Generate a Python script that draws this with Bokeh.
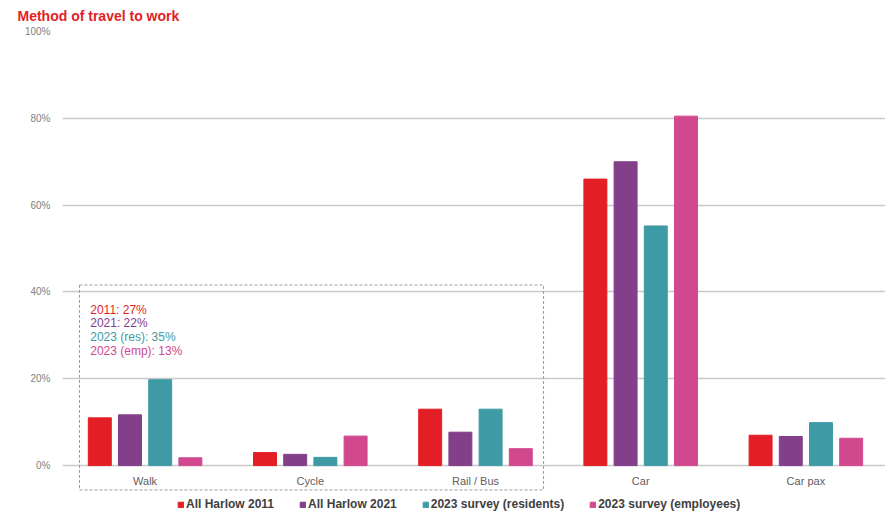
import numpy as np
from bokeh.plotting import figure
from bokeh.models import Range1d, FixedTicker, Legend, LegendItem, ColumnDataSource
from bokeh.core.properties import value
from bokeh.embed import file_html
from bokeh.resources import INLINE

title = "Method of travel to work"
categories = ["Walk", "Cycle", "Rail / Bus", "Car", "Car pax"]
series_names = ["All Harlow 2011", "All Harlow 2021", "2023 survey (residents)", "2023 survey (employees)"]
colors = ["#e31e25", "#833f89", "#3e9aa5", "#d1488f"]
harlow_2011 = [11, 3, 13, 66, 7]
harlow_2021 = [11.7, 2.6, 7.7, 70, 6.7]
survey_res = [19.8, 1.9, 13, 55.2, 9.9]
survey_emp = [1.8, 6.8, 3.9, 80.5, 6.3]
series = [harlow_2011, harlow_2021, survey_res, survey_emp]
y_ticks = [0, 20, 40, 60, 80, 100]
grid_ticks = [0, 20, 40, 60, 80]
note_lines = ["2011: 27%", "2021: 22%", "2023 (res): 35%", "2023 (emp): 13%"]

FONT = "Liberation Sans"

p = figure(width=885, height=515, output_backend="svg", toolbar_location=None,
           x_range=Range1d(-0.5, 4.482), y_range=Range1d(-10.8, 100),
           min_border_left=62, min_border_right=0, min_border_top=30, min_border_bottom=3)
p.outline_line_color = None
p.background_fill_color = "white"
p.border_fill_color = "white"

p.title.text = title
p.title.align = "left"
p.title.offset = -45
p.title.text_color = "#e31e25"
p.title.text_font = FONT
p.title.text_font_size = "14px"
p.title.text_font_style = "bold"
p.title.vertical_align = "middle"
p.title.standoff = 13

p.xaxis.visible = False
p.xgrid.visible = False
p.ygrid.ticker = FixedTicker(ticks=grid_ticks)
p.ygrid.grid_line_color = "#c9c9c9"
p.ygrid.grid_line_width = 1.5

yax = p.yaxis[0]
yax.ticker = FixedTicker(ticks=y_ticks)
yax.major_label_overrides = {t: f"{t}%" for t in y_ticks}
yax.axis_line_color = None
yax.major_tick_line_color = None
yax.minor_tick_line_color = None
yax.major_tick_out = 0
yax.major_tick_in = 0
yax.major_label_standoff = 12
yax.major_label_text_font = FONT
yax.major_label_text_font_size = "10px"
yax.major_label_text_color = "#808080"

xs = np.arange(len(categories))
stride = 0.1828
bw = 0.139
items = []
for k, (vals, name, col) in enumerate(zip(series, series_names, colors)):
    src = ColumnDataSource(dict(x=xs + (k - 1.5) * stride, top=vals))
    r = p.vbar(x="x", top="top", width=bw, bottom=0, source=src,
               fill_color=col, line_color=col)
    items.append(LegendItem(label=name, renderers=[r]))

# category labels
p.text(x=xs, y=[-3.5] * len(categories), text=categories, text_align="center",
       text_baseline="middle", text_font=value(FONT), text_font_size="11px",
       text_color="#606060")

# dashed box around active modes
p.quad(left=[-0.397], right=[2.412], top=[41.6], bottom=[-5.6],
       fill_color=None, line_color="#9a9a9a", line_dash="3 2", line_width=1)

# notes
note_y = [35.9 - i * 3.15 for i in range(len(note_lines))]
p.text(x=[-0.332] * len(note_lines), y=note_y, text=note_lines, text_color=colors,
       text_align="left", text_baseline="middle", text_font=value(FONT),
       text_font_size="12px")

legend = Legend(items=items, orientation="horizontal", location=(115, 1),
                glyph_width=7, glyph_height=7, label_standoff=2, spacing=25,
                label_text_font=FONT, label_text_font_size="12px",
                label_text_font_style="bold", label_text_color="#404040",
                padding=0, margin=0, border_line_color=None,
                background_fill_alpha=0, label_height=14)
p.add_layout(legend)

open("out.html", "w").write(file_html(p, INLINE))
